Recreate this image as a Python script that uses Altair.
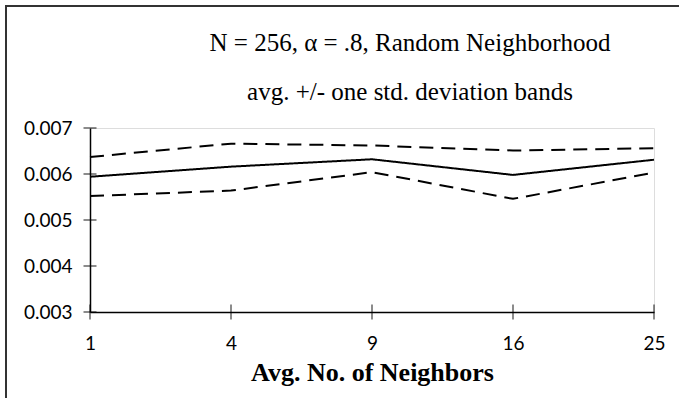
import altair as alt
import pandas as pd

categories = ["1", "4", "9", "16", "25"]
avg_values = [0.00594, 0.00616, 0.00632, 0.00598, 0.00631]
upper_values = [0.00637, 0.00666, 0.00662, 0.00651, 0.00656]
lower_values = [0.00552, 0.00564, 0.00604, 0.00546, 0.00603]
y_ticks = [0.003, 0.004, 0.005, 0.006, 0.007]

title_lines = ["N = 256, α = .8, Random Neighborhood", "avg. +/- one std. deviation bands"]
x_title = "Avg. No. of Neighbors"

W, H = 564, 184
PAD_L, PAD_T, PAD_R, PAD_B = 90, 128, 25, 86

rows = []
for name, vals in [("avg", avg_values), ("upper", upper_values), ("lower", lower_values)]:
    for c, v in zip(categories, vals):
        rows.append({"n": c, "value": v, "series": name})
df = pd.DataFrame(rows)

x_scale = alt.Scale(type="point", domain=categories, padding=0)
y_scale = alt.Scale(domain=[0.003, 0.007], nice=False, zero=False)

lines = alt.Chart(df).mark_line(color="black", strokeWidth=2).encode(
    x=alt.X("n:O", scale=x_scale, sort=categories,
            axis=alt.Axis(title=x_title, labelAngle=0, ticks=False, domainColor="black",
                          domainWidth=1.5, labelFont="Lato", labelFontSize=19,
                          labelColor="black", labelPadding=22,
                          titleFont="Liberation Serif", titleFontSize=26,
                          titleFontWeight="bold", titleColor="black", titlePadding=6,
                          zindex=1)),
    y=alt.Y("value:Q", scale=y_scale,
            axis=alt.Axis(title=None, values=y_ticks, format=".3f", ticks=False,
                          grid=False, domainColor="black", domainWidth=1.5,
                          labelFont="Lato", labelFontSize=19, labelColor="black",
                          labelPadding=18, zindex=1)),
    strokeDash=alt.StrokeDash("series:N",
                              scale=alt.Scale(domain=["avg", "upper", "lower"],
                                              range=[[1, 0], [14, 8], [14, 8]]),
                              legend=None),
    detail="series:N",
)

xt = alt.Chart(pd.DataFrame({"n": categories})).mark_tick(
    orient="vertical", color="black", size=15, thickness=1.3
).encode(
    x=alt.X("n:O", scale=x_scale, sort=categories),
    y=alt.datum(y_ticks[0]),
)

yt = alt.Chart(pd.DataFrame({"v": y_ticks})).mark_tick(
    orient="horizontal", color="black", size=13, thickness=1.3
).encode(
    x=alt.datum(categories[0]),
    y=alt.Y("v:Q", scale=y_scale),
)

frame_left = alt.Chart(pd.DataFrame({"a": [0]})).mark_rule(color="#333333", strokeWidth=2).encode(
    x=alt.value(-PAD_L + 6), y=alt.value(-PAD_T + 6), y2=alt.value(H + PAD_B)
)
frame_top = alt.Chart(pd.DataFrame({"a": [0]})).mark_rule(color="#333333", strokeWidth=2).encode(
    x=alt.value(-PAD_L + 5), x2=alt.value(W + PAD_R), y=alt.value(-PAD_T + 6)
)

chart = alt.layer(lines, xt, yt, frame_left, frame_top).properties(
    width=W, height=H,
    title=alt.TitleParams(text=title_lines, font="Liberation Serif", fontSize=25,
                          fontWeight="normal", color="black", anchor="middle",
                          frame="group", dx=38, lineHeight=49, offset=-100),
    autosize=alt.AutoSizeParams(type="none"),
    padding={"left": PAD_L, "top": PAD_T, "right": PAD_R, "bottom": PAD_B},
).configure_view(stroke="#999999", strokeWidth=2).configure(background="white")

chart.save("out.html", embed_options={"renderer": "svg", "actions": False})
